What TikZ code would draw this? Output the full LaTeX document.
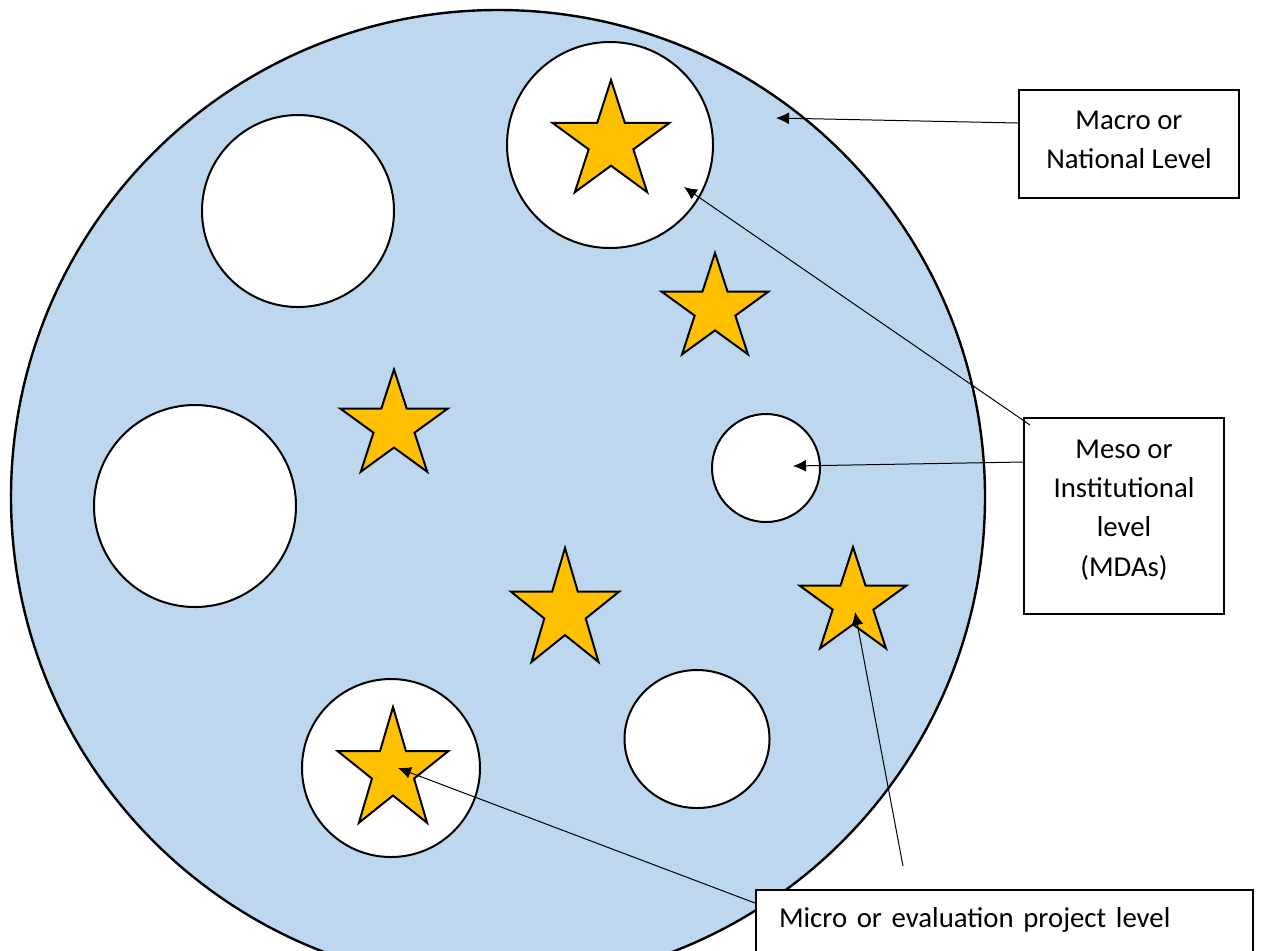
\documentclass[tikz,border=0pt]{standalone}
\usepackage{fontspec}
\setmainfont{Carlito}
\usetikzlibrary{arrows.meta,shapes.geometric}

\definecolor{plateblue}{HTML}{BDD7EE}
\definecolor{stargold}{HTML}{FFC000}

\tikzset{
  goldstar/.pic={
    \filldraw[fill=stargold, draw=black, line width=1pt, line join=miter]
      (-90:1) \foreach \k in {0,...,3}{ -- ({-54+72*\k}:0.382) -- ({-18+72*\k}:1) } -- (234:0.382) -- cycle;
  }
}

\begin{document}
\begin{tikzpicture}[x=0.5pt, y=-0.5pt,
    hole/.style={circle, draw, fill=white, line width=1pt, inner sep=0pt},
    levelbox/.style={rectangle, draw, fill=white, line width=1pt, inner sep=0pt,
        font=\fontsize{14.4}{19.6}\selectfont, align=center},
    pointer/.style={-{Latex[length=6.5pt, width=6pt]}, line width=0.5pt}]

    \clip (0,0) rectangle (1261,950);

    % National plate
    \node[circle, draw, fill=plateblue, line width=1.2pt, minimum size=487pt, inner sep=0pt] (plate) at (498,497) {};

    % Institutions (white holes)
    \node[hole, minimum size=103pt] (holeA) at (610,145) {};
    \node[hole, minimum size=96pt] (holeB) at (298,211) {};
    \node[hole, minimum size=101pt] (holeC) at (195,506) {};
    \node[hole, minimum size=54pt] (holeD) at (766,468) {};
    \node[hole, ellipse, minimum width=72.5pt, minimum height=69pt] (holeE) at (697,739) {};
    \node[hole, minimum size=89pt] (holeF) at (391,768) {};

    % Projects (stars)
    \pic[xscale=61.5, yscale=62] (starA) at (611,142) {goldstar};
    \pic[scale=56] (starB) at (715,309) {goldstar};
    \pic[scale=56.5] (starC) at (394,426) {goldstar};
    \pic[xscale=57, yscale=63] (starD) at (565,611) {goldstar};
    \pic[scale=56] (starE) at (853,603) {goldstar};
    \pic[xscale=58, yscale=64] (starF) at (393,771) {goldstar};

    % Level labels
    \node[levelbox, minimum width=110pt, minimum height=54pt, text depth=4pt] (macro) at (1129,144) {Macro or\\National Level};
    \node[levelbox, minimum width=100pt, minimum height=98pt, text depth=8pt] (meso) at (1124,516) {Meso or\\Institutional\\level\\(MDAs)};
    \node[levelbox, anchor=north west, align=left, inner xsep=11.5pt, inner ysep=4pt,
        text width=225.5pt, text height=14.5pt, text depth=30pt] (micro) at (755,889) {Micro or evaluation project level};

    % Arrow ends
    \coordinate (macroTip) at (776,118);
    \coordinate (mesoTipA) at (684,187);
    \coordinate (mesoTipB) at (793,466);
    \coordinate (microTipA) at (398,768);
    \coordinate (microTipB) at (855,612);
    \coordinate (microTail) at (903,866);

    % Pointers
    \draw[pointer] ([yshift=10.5pt]macro.west) -- (macroTip);
    \draw[pointer] ([shift={(3.5pt,-4pt)}]meso.north west) -- (mesoTipA);
    \draw[pointer] ([yshift=27pt]meso.west) -- (mesoTipB);
    \draw[pointer] ([yshift=-7pt]micro.north west) -- (microTipA);
    \draw[pointer] (microTail) -- (microTipB);
\end{tikzpicture}
\end{document}
